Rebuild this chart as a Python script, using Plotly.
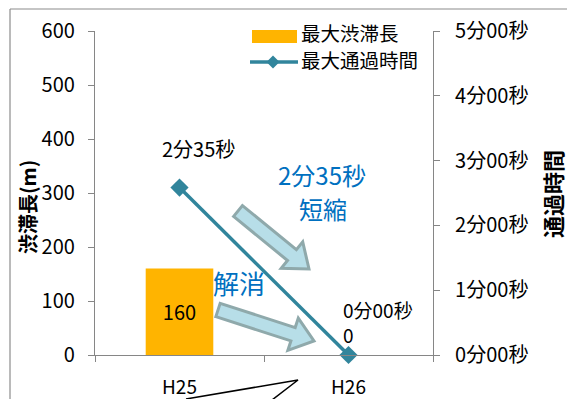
import plotly.graph_objects as go

# ---- data ----
categories = ["H25", "H26"]
jam_length = [160, 0]            # 最大渋滞長 (m)
pass_time_sec = [155, 0]         # 最大通過時間 (seconds)
pass_time_labels = ["2分35秒", "0分00秒"]
jam_labels = ["160", "0"]
y2_tickvals = [0, 60, 120, 180, 240, 300]
y2_ticktext = ["0分00秒", "1分00秒", "2分00秒", "3分00秒", "4分00秒", "5分00秒"]
y1_tickvals = [0, 100, 200, 300, 400, 500, 600]

FONT = "Noto Sans CJK JP"
W, H = 567, 399
L, R, T, B = 95, 433, 31, 355   # plot area in pixels
ORANGE = "#FFB400"
TEAL = "#31859C"
BLUE = "#0070C0"
AXIS = "#868686"


def px(x):
    return (x - L) / (R - L)


def py(y):
    return (B - y) / (B - T)


def path_from_px(points, close=True):
    s = "M " + " L ".join(f"{px(x):.5f},{py(y):.5f}" for x, y in points)
    return s + (" Z" if close else "")


def block_arrow(tail, tip, w, h, hl):
    tx, ty = tail
    px_, py_ = tip
    dx, dy = px_ - tx, py_ - ty
    ln = (dx * dx + dy * dy) ** 0.5
    dx, dy = dx / ln, dy / ln
    nx, ny = -dy, dx
    bx, by = px_ - hl * dx, py_ - hl * dy
    pts = [
        (tx + w * nx, ty + w * ny),
        (bx + w * nx, by + w * ny),
        (bx + h * nx, by + h * ny),
        (px_, py_),
        (bx - h * nx, by - h * ny),
        (bx - w * nx, by - w * ny),
        (tx - w * nx, ty - w * ny),
    ]
    return path_from_px(pts)


def paper_text(x, y, text, size, color="black", anchor="center", angle=0, bold=False):
    return dict(x=px(x), y=py(y), xref="paper", yref="paper", text=text,
                showarrow=False, xanchor=anchor, yanchor="middle", textangle=angle,
                borderpad=0,
                font=dict(family=FONT, size=size, color=color,
                          weight="bold" if bold else "normal"))


fig = go.Figure()

fig.add_trace(go.Bar(
    x=categories, y=jam_length, name="最大渋滞長",
    marker=dict(color=ORANGE, line=dict(width=0)),
    width=0.4, yaxis="y", showlegend=False,
    text=[jam_labels[0], ""], textposition="inside", insidetextanchor="middle",
    textfont=dict(family=FONT, size=20, color="black"),
    hoverinfo="skip",
))

fig.add_trace(go.Scatter(
    x=categories, y=pass_time_sec, name="最大通過時間",
    mode="lines+markers", yaxis="y2", showlegend=False,
    line=dict(color=TEAL, width=3.5),
    marker=dict(symbol="diamond", size=14, color=TEAL),
    cliponaxis=False,
))

annotations = []
# line data label at H25
annotations.append(dict(x=categories[0], y=pass_time_sec[0], xref="x", yref="y2",
                        text=pass_time_labels[0], showarrow=False, xshift=19, yshift=39,
                        xanchor="center", yanchor="middle", borderpad=0,
                        font=dict(family=FONT, size=20, color="black")))
# stacked labels at H26: line label above bar label
annotations.append(dict(x=categories[1], y=pass_time_sec[1], xref="x", yref="y2",
                        text=pass_time_labels[1] + "<br>" + jam_labels[1],
                        showarrow=False, xshift=-7, yshift=33, align="left",
                        xanchor="left", yanchor="middle", borderpad=0,
                        font=dict(family=FONT, size=19, color="black")))
# blue texts
annotations.append(paper_text(322, 174, "2分35秒", 24, BLUE))
annotations.append(paper_text(323, 208, "短縮", 24, BLUE))
annotations.append(paper_text(239, 282, "解消", 26, BLUE))
# custom legend texts
annotations.append(paper_text(300, 32.5, "最大渋滞長", 19.5, anchor="left"))
annotations.append(paper_text(300, 60, "最大通過時間", 19.5, anchor="left"))
# axis titles
annotations.append(paper_text(27, 207, "渋滞長(m)", 20, angle=-90, bold=True))
annotations.append(paper_text(552, 194, "通過時間", 22, angle=-90, bold=True))

shapes = []
# outer chart border (top and left)
shapes.append(dict(type="line", xref="paper", yref="paper", x0=px(10), y0=py(9), x1=px(567), y1=py(9),
                   line=dict(color="#8C8C8C", width=1.2)))
shapes.append(dict(type="line", xref="paper", yref="paper", x0=px(10), y0=py(9), x1=px(10), y1=py(399),
                   line=dict(color="#8C8C8C", width=1.2)))
# block arrows
for tail, tip in [((238, 211), (309, 269)), ((218, 310), (314, 341))]:
    shapes.append(dict(type="path", xref="paper", yref="paper",
                       path=block_arrow(tail, tip, 7, 17, 22),
                       fillcolor="#B7DEE8", line=dict(color="#8FA9AB", width=3)))
# legend symbols
shapes.append(dict(type="rect", xref="paper", yref="paper", x0=px(252), y0=py(30), x1=px(297), y1=py(43),
                   fillcolor=ORANGE, line=dict(width=0)))
shapes.append(dict(type="line", xref="paper", yref="paper", x0=px(250), y0=py(62), x1=px(298), y1=py(62),
                   line=dict(color=TEAL, width=3.5)))
shapes.append(dict(type="path", xref="paper", yref="paper",
                   path=path_from_px([(273, 55.5), (279.5, 62), (273, 68.5), (266.5, 62)]),
                   fillcolor=TEAL, line=dict(width=0)))
# callout pointer at bottom
shapes.append(dict(type="path", xref="paper", yref="paper",
                   path=path_from_px([(186, 399), (298, 380), (272, 400)], close=False),
                   line=dict(color="black", width=1.5)))

fig.update_layout(
    width=W, height=H,
    margin=dict(l=L, r=W - R, t=T, b=H - B, autoexpand=False),
    paper_bgcolor="white", plot_bgcolor="white",
    font=dict(family=FONT, size=20, color="black"),
    showlegend=False,
    xaxis=dict(
        type="category", range=[-0.5, 1.5], tickson="boundaries",
        showline=True, linecolor=AXIS, linewidth=1.2,
        ticks="outside", ticklen=6, tickcolor=AXIS, tickwidth=1.2,
        showgrid=False, zeroline=False,
        ticklabelstandoff=15,
        tickfont=dict(family=FONT, size=19, color="black"),
    ),
    yaxis=dict(
        range=[0, 600], tickvals=y1_tickvals,
        showline=True, linecolor=AXIS, linewidth=1.2,
        ticks="outside", ticklen=6, tickcolor=AXIS, tickwidth=1.2,
        showgrid=False, zeroline=False,
        ticklabelstandoff=9,
        tickfont=dict(family=FONT, size=20, color="black"),
    ),
    yaxis2=dict(
        range=[0, 300], overlaying="y", side="right",
        tickvals=y2_tickvals, ticktext=y2_ticktext,
        showline=True, linecolor=AXIS, linewidth=1.2,
        ticks="outside", ticklen=6, tickcolor=AXIS, tickwidth=1.2,
        showgrid=False, zeroline=False,
        ticklabelstandoff=11,
        tickfont=dict(family=FONT, size=20, color="black"),
    ),
    annotations=annotations,
    shapes=shapes,
)

fig.write_html("out.html")
